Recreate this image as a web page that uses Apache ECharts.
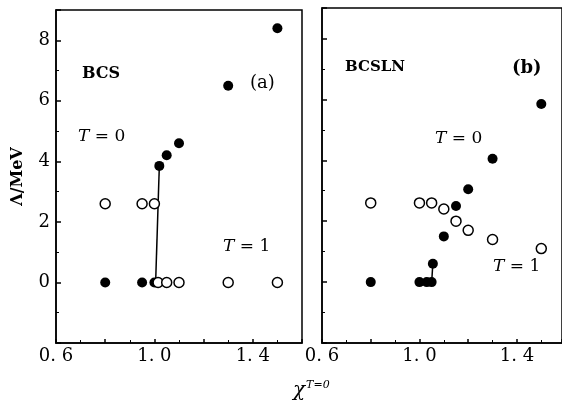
<!DOCTYPE html>
<html>
<head>
<meta charset="utf-8">
<script src="https://cdn.jsdelivr.net/npm/echarts@6/dist/echarts.min.js"></script>
<style>
  html, body { margin: 0; padding: 0; background: #fff; }
  #chart { width: 562px; height: 407px; }
</style>
</head>
<body>
<div id="chart"></div>
<script>
// (a) BCS
const bcsFilledX = [0.8, 0.95, 1.0, 1.02, 1.05, 1.1, 1.3, 1.5];
const bcsFilledY = [0, 0, 0, 3.85, 4.2, 4.6, 6.5, 8.4];
const bcsOpenX = [0.8, 0.95, 1.0, 1.015, 1.05, 1.1, 1.3, 1.5];
const bcsOpenY = [2.6, 2.6, 2.6, 0, 0, 0, 0, 0];
const bcsJumpX = [1.005, 1.02];
const bcsJumpY = [0, 3.85];

// (b) BCSLN
const lnFilledX = [0.8, 1.0, 1.03, 1.05, 1.055, 1.1, 1.15, 1.2, 1.3, 1.5];
const lnFilledY = [0, 0, 0, 0, 0.6, 1.5, 2.5, 3.05, 4.05, 5.85];
const lnOpenX = [0.8, 1.0, 1.05, 1.1, 1.15, 1.2, 1.3, 1.5];
const lnOpenY = [2.6, 2.6, 2.6, 2.4, 2.0, 1.7, 1.4, 1.1];
const lnJumpX = [1.05, 1.055];
const lnJumpY = [0, 0.6];

const xTickLabels = ['0. 6', '1. 0', '1. 4'];
const xTickValues = [0.6, 1.0, 1.4];
const yTickValues = [0, 2, 4, 6, 8];

const serif = '"DejaVu Serif", "Liberation Serif", serif';

function zip(xs, ys) {
  return xs.map((x, i) => [x, ys[i]]);
}

function xLabel(v) {
  for (let i = 0; i < xTickValues.length; i++) {
    if (Math.abs(v - xTickValues[i]) < 1e-6) return xTickLabels[i];
  }
  return '';
}

function makeX(idx, max) {
  return {
    type: 'value', gridIndex: idx, min: 0.6, max: max, interval: 0.2,
    axisLine: { onZero: false, lineStyle: { color: '#000', width: 1.5 } },
    axisTick: { inside: true, length: 4, lineStyle: { color: '#000', width: 1.5 } },
    minorTick: { show: true, splitNumber: 2, length: 3, lineStyle: { color: '#000' } },
    splitLine: { show: false },
    axisLabel: { formatter: xLabel, color: '#000', fontFamily: serif, fontSize: 18, margin: 4, showMaxLabel: false }
  };
}

function makeY(idx, showLabels) {
  return {
    type: 'value', gridIndex: idx, min: -2, max: 9, interval: 2,
    name: showLabels ? 'Λ/MeV' : '',
    nameLocation: 'middle', nameRotate: 90, nameGap: 30,
    nameTextStyle: { color: '#000', fontFamily: serif, fontSize: 16, fontWeight: 'bold' },
    axisLine: { onZero: false, lineStyle: { color: '#000', width: 1.5 } },
    axisTick: { inside: true, length: 5, lineStyle: { color: '#000', width: 1.5 } },
    minorTick: { show: true, splitNumber: 2, length: 3, lineStyle: { color: '#000' } },
    splitLine: { show: false },
    axisLabel: {
      show: showLabels,
      formatter: v => (yTickValues.indexOf(v) >= 0 ? String(v) : ''),
      color: '#000', fontFamily: serif, fontSize: 18, margin: 6
    }
  };
}

function filled(data, idx) {
  return {
    type: 'scatter', xAxisIndex: idx, yAxisIndex: idx, data: data,
    symbolSize: 10, itemStyle: { color: '#000', opacity: 1 }, z: 3
  };
}

function open(data, idx) {
  return {
    type: 'scatter', xAxisIndex: idx, yAxisIndex: idx, data: data,
    symbolSize: 10, itemStyle: { color: '#fff', borderColor: '#000', borderWidth: 1.5, opacity: 1 }, z: 4
  };
}

function jump(data, idx) {
  return {
    type: 'line', xAxisIndex: idx, yAxisIndex: idx, data: data,
    symbol: 'none', lineStyle: { color: '#000', width: 1.5 }, z: 2
  };
}

function note(x, y, text, size, bold) {
  return {
    type: 'text', left: x, top: y,
    style: {
      text: text, fill: '#000', font: (bold ? 'bold ' : '') + size + 'px ' + serif,
      rich: {
        i: { fontStyle: 'italic', fontFamily: serif, fontSize: size, fill: '#000' },
        n: { fontFamily: serif, fontSize: size, fill: '#000' }
      }
    }
  };
}

const chart = echarts.init(document.getElementById('chart'));
chart.setOption({
  backgroundColor: '#fff',
  animation: false,
  grid: [
    { left: 56, top: 10, width: 246, height: 333, show: true, borderColor: '#000', borderWidth: 1.5 },
    { left: 322, top: 8, width: 241, height: 335, show: true, borderColor: '#000', borderWidth: 1.5 }
  ],
  xAxis: [makeX(0, 1.6), makeX(1, 1.585)],
  yAxis: [makeY(0, true), makeY(1, false)],
  series: [
    jump(zip(bcsJumpX, bcsJumpY), 0),
    filled(zip(bcsFilledX, bcsFilledY), 0),
    open(zip(bcsOpenX, bcsOpenY), 0),
    jump(zip(lnJumpX, lnJumpY), 1),
    filled(zip(lnFilledX, lnFilledY), 1),
    open(zip(lnOpenX, lnOpenY), 1)
  ],
  graphic: [
    note(82, 66, 'BCS', 16, true),
    note(250, 74, '(a)', 18, false),
    note(78, 128, '{i|T} {n|= 0}', 17, false),
    note(223, 238, '{i|T} {n|= 1}', 17, false),
    note(345, 60, 'BCSLN', 15, true),
    note(512, 59, '(b)', 18, true),
    note(435, 130, '{i|T} {n|= 0}', 17, false),
    note(493, 258, '{i|T} {n|= 1}', 17, false),
    {
      type: 'text', left: 293, top: 380,
      style: {
        text: '{c|χ}{s|T=0}',
        rich: {
          c: { fontFamily: serif, fontStyle: 'italic', fontSize: 20, fill: '#000' },
          s: { fontFamily: serif, fontStyle: 'italic', fontSize: 11, fill: '#000', verticalAlign: 'top', padding: [0, 0, 10, 1] }
        }
      }
    }
  ]
});
</script>
</body>
</html>
